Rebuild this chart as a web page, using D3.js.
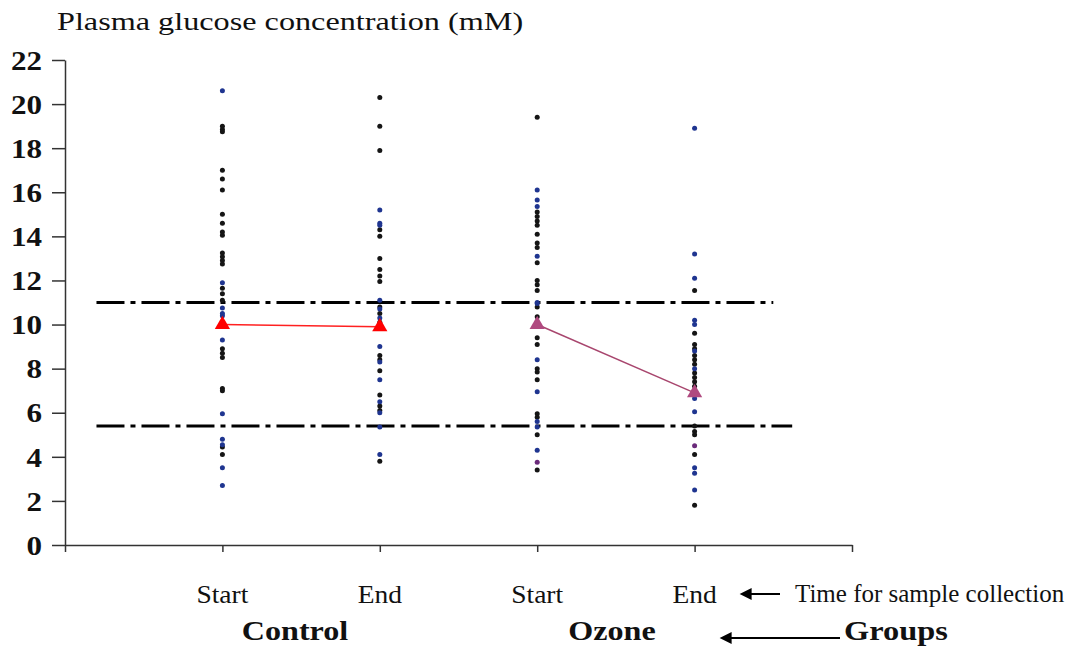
<!DOCTYPE html>
<html>
<head>
<meta charset="utf-8">
<script src="https://cdn.jsdelivr.net/npm/d3@7"></script>
<style>
	body { margin: 0; background: #fff; }
	.axis path, .axis line { stroke: #333; stroke-width: 1.5; }
	.axis text { font-family: "Liberation Serif", serif; font-weight: bold; font-size: 27px; fill: #111; }
	.lbl { font-family: "Liberation Serif", serif; fill: #111; }
</style>
</head>
<body>
<div id="chart"></div>
<script>
// categories on the x axis (1..4), groups underneath
var categories = ["Start", "End", "Start", "End"];
var groups = ["Control", "Ozone"];
var yTicks = [0, 2, 4, 6, 8, 10, 12, 14, 16, 18, 20, 22];

// individual glucose values (mM), per category
var bluePoints = [
	[20.6, 11.9, 10.75, 10.5, 10.4, 9.3, 5.95, 4.8, 4.55, 3.5, 2.7],
	[15.2, 14.6, 14.5, 11.1, 10.7, 10.3, 9.0, 8.3, 7.5, 6.5, 6.0, 5.35, 4.1],
	[16.1, 15.65, 15.35, 13.1, 11.0, 10.95, 8.4, 6.95, 5.6, 5.35, 4.3],
	[18.9, 13.2, 12.1, 10.2, 10.0, 8.8, 8.0, 6.65, 6.05, 3.5, 3.25, 2.5]
];
var blackPoints = [
	[19.0, 18.85, 18.75, 17.0, 16.6, 16.1, 15.0, 14.6, 14.2, 14.05, 13.25, 13.07, 12.9, 12.75, 11.65, 11.4, 11.1, 8.9, 8.7, 8.5, 7.1, 7.0, 4.45, 4.1],
	[20.3, 19.0, 17.9, 14.3, 14.0, 13.0, 12.5, 12.2, 11.95, 10.8, 10.5, 10.1, 9.95, 8.6, 8.4, 7.9, 6.8, 6.3, 6.1, 3.8],
	[19.4, 15.1, 14.9, 14.7, 14.5, 14.1, 13.7, 13.5, 12.8, 12.0, 11.8, 11.55, 10.8, 10.35, 9.4, 9.1, 8.0, 7.85, 7.5, 5.95, 5.8, 5.0, 3.4],
	[11.55, 9.6, 9.1, 8.9, 8.6, 8.4, 8.2, 7.8, 7.6, 7.4, 7.2, 5.4, 5.15, 5.0, 4.1, 1.8]
];
var purplePoints = [[], [], [3.75], [4.5]];

// group means
var controlMeans = [10.0, 9.9];
var ozoneMeans = [10.0, 6.9];

// reference levels
var thresholds = [11, 5.4];

var width = 1068, height = 647;

var svg = d3.select("#chart").append("svg")
	.attr("width", width)
	.attr("height", height);

var x = d3.scaleLinear().domain([0, 5]).range([65, 852]);
var y = d3.scaleLinear().domain([0, 22]).range([545, 60]);

// axes
var yAxis = d3.axisLeft(y).tickValues(yTicks).tickSize(13).tickSizeOuter(0).tickPadding(10);
var xAxis = d3.axisBottom(x).tickValues([0, 1, 2, 3, 4, 5]).tickSize(7).tickSizeOuter(0).tickFormat("");

svg.append("g").attr("class", "x axis")
	.attr("transform", "translate(0," + y(0) + ")")
	.call(xAxis);

svg.append("g").attr("class", "y axis")
	.attr("transform", "translate(" + x(0) + ",0)")
	.call(yAxis);

// the scan is stretched sideways, so widen the glyphs a bit
svg.selectAll(".y.axis text")
	.attr("x", 0)
	.attr("dy", "0.34em")
	.attr("transform", "translate(-23,0) scale(1.15,1)");

// dash-dot threshold lines
svg.selectAll(".thr").data(thresholds).enter().append("line")
	.attr("class", "thr")
	.attr("x1", x(0.2))
	.attr("x2", function(d, i) { return i == 0 ? x(4.5) : x(4.62); })
	.attr("y1", function(d) { return y(d); })
	.attr("y2", function(d) { return y(d); })
	.attr("stroke", "#000")
	.attr("stroke-width", 3)
	.attr("stroke-dasharray", "28,6,5,6");

// points
function drawPoints(sets, color) {
	sets.forEach(function(vals, i) {
		svg.append("g").selectAll("circle").data(vals).enter().append("circle")
			.attr("cx", x(i + 1))
			.attr("cy", function(d) { return y(d); })
			.attr("r", 2.5)
			.attr("fill", color);
	});
}
drawPoints(blackPoints, "#151515");
drawPoints(bluePoints, "#1f3590");
drawPoints(purplePoints, "#6a2a7a");

// mean lines with triangles
var line = d3.line()
	.x(function(d) { return x(d[0]); })
	.y(function(d) { return y(d[1]); });

var tri = d3.symbol().type(d3.symbolTriangle).size(100);

function drawMeans(means, offset, lineColor, markColor) {
	var pts = means.map(function(m, i) { return [offset + i + 1, m]; });
	svg.append("path").datum(pts)
		.attr("d", line)
		.attr("fill", "none")
		.attr("stroke", lineColor)
		.attr("stroke-width", 1.5);
	svg.append("g").selectAll("path").data(pts).enter().append("path")
		.attr("d", tri)
		.attr("transform", function(d) { return "translate(" + x(d[0]) + "," + y(d[1]) + ")"; })
		.attr("fill", markColor);
}
drawMeans(controlMeans, 0, "#ff2020", "#ff0000");
drawMeans(ozoneMeans, 2, "#a8466e", "#b04a80");

// labels
function label(txt, px, py, size, sx, bold, anchor) {
	return svg.append("text").attr("class", "lbl")
		.attr("transform", "translate(" + px + "," + py + ") scale(" + sx + ",1)")
		.attr("font-size", size)
		.attr("font-weight", bold ? "bold" : "normal")
		.attr("text-anchor", anchor || "start")
		.text(txt);
}

label("Plasma glucose concentration (mM)", 57, 30, 26, 1.24, false);

categories.forEach(function(c, i) {
	label(c, x(i + 1), 603, 25, 1.1, false, "middle");
});

groups.forEach(function(g, i) {
	label(g, i == 0 ? 295 : 612, 640, 27, 1.19, true, "middle");
});

label("Time for sample collection", 795, 602, 25, 1, false);
label("Groups", 844, 640, 27, 1.2, true);

// arrows
svg.append("defs").append("marker")
	.attr("id", "head")
	.attr("viewBox", "0 0 10 10")
	.attr("refX", 8).attr("refY", 5)
	.attr("markerWidth", 8).attr("markerHeight", 6)
	.attr("markerUnits", "strokeWidth")
	.attr("orient", "auto")
	.append("path").attr("d", "M0,0 L10,5 L0,10 Z").attr("fill", "#000");

[[780, 742, 594], [840, 722, 638]].forEach(function(a) {
	svg.append("line")
		.attr("x1", a[0]).attr("x2", a[1])
		.attr("y1", a[2]).attr("y2", a[2])
		.attr("stroke", "#000").attr("stroke-width", 2)
		.attr("marker-end", "url(#head)");
});
</script>
</body>
</html>
